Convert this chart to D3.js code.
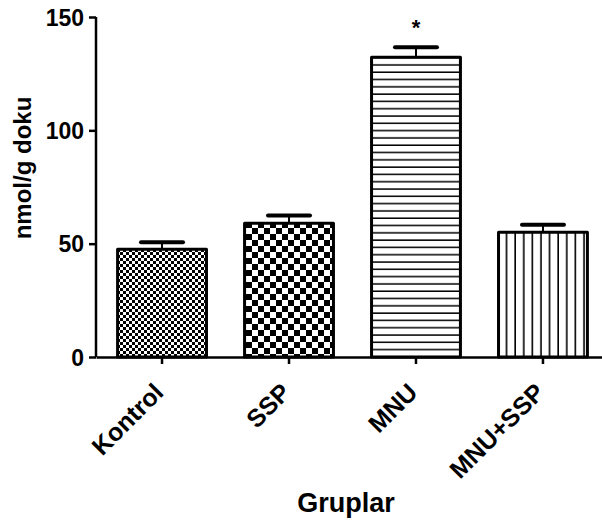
<!DOCTYPE html>
<html lang="en">
<head>
    <meta charset="UTF-8">
    <title>Gruplar</title>
    <script src="https://cdn.jsdelivr.net/npm/d3@7"></script>
    <style>
        body { margin: 0; background: #fff; }
        text { font-family: "Liberation Sans", Arial, sans-serif; font-weight: bold; fill: #000; }
    </style>
</head>
<body>
    <div id="chart"></div>
    <script>
        const groups = ['Kontrol', 'SSP', 'MNU', 'MNU+SSP']
        const means = [47.5, 59, 132.2, 55]
        const errTops = [50.6, 62.4, 136.6, 58.4]
        const patterns = ['checkSmall', 'checkBig', 'hLines', 'vLines']
        const marks = ['', '', '*', '']
        const yTicks = [0, 50, 100, 150]

        const W = 602, H = 525
        const svg = d3.select('#chart').append('svg')
            .attr('width', W).attr('height', H)

        const x = d3.scaleBand().domain(groups).range([96, 609])
            .paddingInner(0.3).paddingOuter(0.17)
        const y = d3.scaleLinear().domain([0, 150]).range([357, 17])

        // fill patterns
        let defs = svg.append('defs')
        let p1 = defs.append('pattern').attr('id', 'checkSmall').attr('patternUnits', 'userSpaceOnUse')
            .attr('width', 6).attr('height', 6)
        p1.append('rect').attr('width', 6).attr('height', 6).attr('fill', '#fff')
        p1.append('rect').attr('width', 3).attr('height', 3).attr('fill', '#000')
        p1.append('rect').attr('x', 3).attr('y', 3).attr('width', 3).attr('height', 3).attr('fill', '#000')

        let p2 = defs.append('pattern').attr('id', 'checkBig').attr('patternUnits', 'userSpaceOnUse')
            .attr('width', 12).attr('height', 12)
        p2.append('rect').attr('width', 12).attr('height', 12).attr('fill', '#fff')
        p2.append('rect').attr('width', 6).attr('height', 6).attr('fill', '#000')
        p2.append('rect').attr('x', 6).attr('y', 6).attr('width', 6).attr('height', 6).attr('fill', '#000')

        let p3 = defs.append('pattern').attr('id', 'hLines').attr('patternUnits', 'userSpaceOnUse')
            .attr('width', 10).attr('height', 7.3)
        p3.append('rect').attr('width', 10).attr('height', 7.3).attr('fill', '#fff')
        p3.append('rect').attr('y', 5.8).attr('width', 10).attr('height', 1.5).attr('fill', '#000')

        let p4 = defs.append('pattern').attr('id', 'vLines').attr('patternUnits', 'userSpaceOnUse')
            .attr('width', 8.6).attr('height', 10)
        p4.append('rect').attr('width', 8.6).attr('height', 10).attr('fill', '#fff')
        p4.append('rect').attr('x', 7).attr('width', 1.6).attr('height', 10).attr('fill', '#000')

        // bars
        svg.selectAll('.bar').data(groups).enter().append('rect')
            .attr('class', 'bar')
            .attr('x', d => x(d))
            .attr('y', (d, i) => y(means[i]))
            .attr('width', x.bandwidth())
            .attr('height', (d, i) => y(0) - y(means[i]))
            .attr('fill', (d, i) => `url(#${patterns[i]})`)
            .attr('stroke', '#000').attr('stroke-width', 3)
            .attr('stroke-linejoin', 'round')

        // error bars
        let cx = d => x(d) + x.bandwidth() / 2
        svg.selectAll('.err').data(groups).enter().append('line')
            .attr('x1', cx).attr('x2', cx)
            .attr('y1', (d, i) => y(means[i])).attr('y2', (d, i) => y(errTops[i]))
            .attr('stroke', '#000').attr('stroke-width', 2)
        svg.selectAll('.cap').data(groups).enter().append('line')
            .attr('x1', d => cx(d) - 21).attr('x2', d => cx(d) + 21)
            .attr('y1', (d, i) => y(errTops[i])).attr('y2', (d, i) => y(errTops[i]))
            .attr('stroke', '#000').attr('stroke-width', 4).attr('stroke-linecap', 'round')

        svg.selectAll('.mark').data(groups).enter().append('text')
            .attr('x', cx).attr('y', (d, i) => y(errTops[i]) - 12)
            .attr('text-anchor', 'middle').attr('font-size', 22)
            .text((d, i) => marks[i])

        // axes
        let yAxis = svg.append('g').attr('transform', 'translate(96,0)')
            .call(d3.axisLeft(y).tickValues(yTicks).tickSize(7).tickPadding(5))
        yAxis.select('.domain').attr('stroke-width', 2.5).attr('d', `M0,${y(150)}V${y(0)}`)
        yAxis.selectAll('.tick line').attr('stroke-width', 2.5)
        yAxis.selectAll('.tick text').attr('font-size', 23).attr('font-family', 'Liberation Sans, Arial')
            .attr('font-weight', 'bold').attr('dy', '0.36em')

        let xAxis = svg.append('g').attr('transform', `translate(0,${y(0)})`)
            .call(d3.axisBottom(x).tickSize(7).tickSizeOuter(0))
        xAxis.select('.domain').attr('stroke-width', 2.5)
        xAxis.selectAll('.tick line').attr('stroke-width', 2.5)
        xAxis.selectAll('.tick text').attr('font-size', 25).attr('font-family', 'Liberation Sans, Arial')
            .attr('font-weight', 'bold')
            .attr('text-anchor', 'end')
            .attr('transform', 'translate(3,37) rotate(-45)')
            .attr('y', 0).attr('dy', 0)

        svg.append('text').attr('transform', 'translate(31,168) rotate(-90)')
            .attr('text-anchor', 'middle').attr('font-size', 24).text('nmol/g doku')
        svg.append('text').attr('x', 346).attr('y', 512)
            .attr('text-anchor', 'middle').attr('font-size', 27).text('Gruplar')
    </script>
</body>
</html>
